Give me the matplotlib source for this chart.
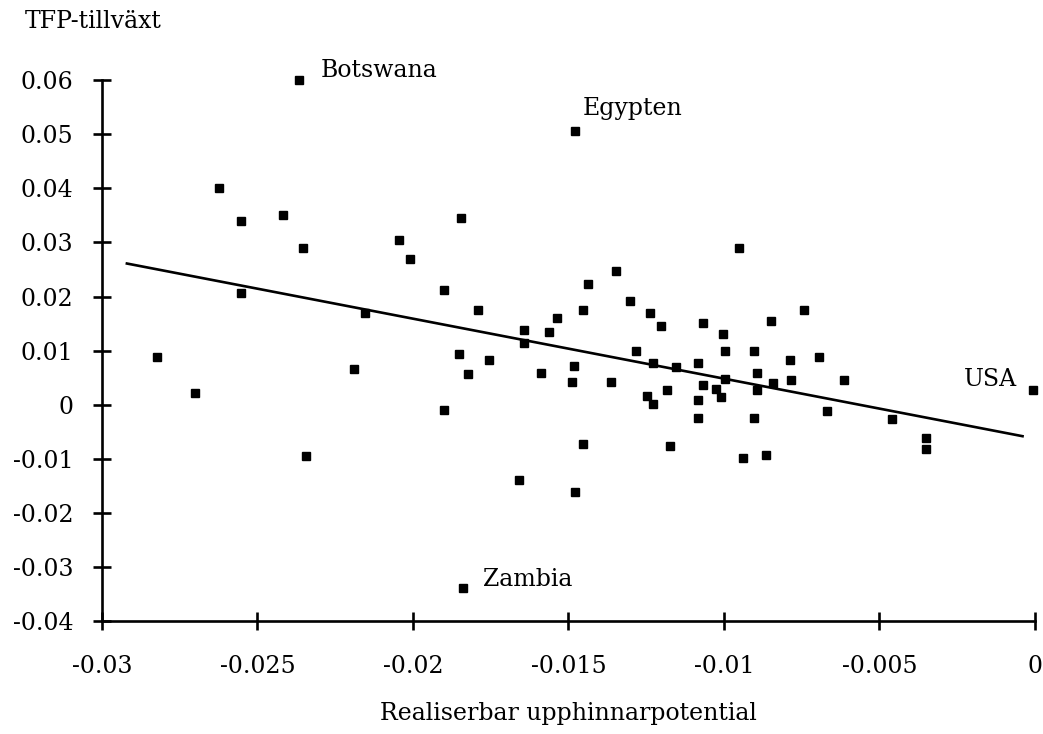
import matplotlib
matplotlib.use("Agg")
import matplotlib.pyplot as plt

plt.rcParams['font.family'] = ['DejaVu Serif']
plt.rcParams['axes.unicode_minus'] = False

# Realiserbar upphinnarpotential (x) och TFP-tillväxt (y)
potential = [-0.02366, -0.01479, -0.02623, -0.02554, -0.02419, -0.02355, -0.02046,
             -0.01846, -0.02010, -0.02554, -0.01899, -0.01790, -0.02154, -0.02822,
             -0.02701, -0.02189, -0.01852, -0.01824, -0.01756, -0.01899, -0.02344,
             -0.00951, -0.01348, -0.01437, -0.01302, -0.01238, -0.01454, -0.01536,
             -0.01563, -0.01642, -0.01642, -0.01201, -0.01067, -0.01004, -0.00849,
             -0.01588, -0.01481, -0.01488, -0.01363, -0.01283, -0.01227, -0.01155,
             -0.01085, -0.00996, -0.00904, -0.00788, -0.00786, -0.00893, -0.00841,
             -0.00893, -0.00997, -0.01067, -0.01027, -0.01011, -0.01183, -0.01249,
             -0.01227, -0.01083, -0.01083, -0.00904, -0.01452, -0.01174, -0.00940,
             -0.00865, -0.01659, -0.00742, -0.00695, -0.00614, -0.00668, -0.00461,
             -0.00350, -0.00350, -0.00005, -0.01839, -0.01479]
tfp = [0.0600, 0.0506, 0.0401, 0.0340, 0.0351, 0.0290, 0.0304,
       0.0346, 0.0269, 0.0206, 0.0212, 0.0175, 0.0170, 0.0088,
       0.0021, 0.0067, 0.0094, 0.0057, 0.0083, -0.0010, -0.0095,
       0.0289, 0.0248, 0.0223, 0.0192, 0.0170, 0.0175, 0.0160,
       0.0135, 0.0138, 0.0114, 0.0146, 0.0151, 0.0131, 0.0155,
       0.0058, 0.0072, 0.0042, 0.0042, 0.0099, 0.0078, 0.0069,
       0.0078, 0.0099, 0.0099, 0.0083, 0.0046, 0.0058, 0.0040,
       0.0027, 0.0047, 0.0037, 0.0030, 0.0015, 0.0027, 0.0017,
       0.0001, 0.0008, -0.0025, -0.0025, -0.0072, -0.0077, -0.0099,
       -0.0093, -0.0138, 0.0175, 0.0088, 0.0046, -0.0011, -0.0027,
       -0.0082, -0.0061, 0.0027, -0.0339, -0.0161]

# regressionslinjens ändpunkter
fit_x = [-0.0292, -0.0004]
fit_y = [0.0261, -0.0058]

# namngivna länder
names = ['Botswana', 'Egypten', 'USA', 'Zambia']
name_x = [-0.02366, -0.01479, -0.00005, -0.01839]
name_y = [0.0600, 0.0506, 0.0027, -0.0339]

xticks = [-0.03, -0.025, -0.02, -0.015, -0.01, -0.005, 0]
xlabels = ['-0.03', '-0.025', '-0.02', '-0.015', '-0.01', '-0.005', '0']
yticks = [0.06, 0.05, 0.04, 0.03, 0.02, 0.01, 0, -0.01, -0.02, -0.03, -0.04]
ylabels = ['0.06', '0.05', '0.04', '0.03', '0.02', '0.01', '0',
           '-0.01', '-0.02', '-0.03', '-0.04']

fig = plt.figure(figsize=(10.43, 7.34), dpi=100)
ax = fig.add_axes([0.0978, 0.1535, 0.8945, 0.7375])

ax.plot(potential, tfp, 's', color='black', markersize=6.3, clip_on=False)
ax.plot(fit_x, fit_y, color='black', linewidth=1.9)

# textpositioner (förskjutning i pixlar) för etiketterna
offsets = {'Botswana': (22, 10, 'left'), 'Egypten': (8, 22, 'left'),
           'USA': (-16, 11, 'right'), 'Zambia': (20, 9, 'left')}
for n, x, y in zip(names, name_x, name_y):
    dx, dy, ha = offsets[n]
    ax.annotate(n, (x, y), xytext=(dx, dy), textcoords='offset pixels',
                ha=ha, va='center', fontsize=17)

ax.set_xlim(-0.03, 0)
ax.set_ylim(-0.04, 0.06)
ax.set_xticks(xticks)
ax.set_xticklabels(xlabels)
ax.set_yticks(yticks)
ax.set_yticklabels(ylabels)

for s in ['top', 'right']:
    ax.spines[s].set_visible(False)
for s in ['left', 'bottom']:
    ax.spines[s].set_linewidth(1.9)

ax.tick_params(axis='both', direction='inout', length=13, width=1.9,
               labelsize=17, colors='black')
ax.tick_params(axis='x', pad=18)
ax.tick_params(axis='y', pad=14)

ax.set_xlabel('Realiserbar upphinnarpotential', fontsize=17, labelpad=17)
fig.text(25 / 1043, 1 - 22 / 734, 'TFP-tillväxt', ha='left', va='center',
         fontsize=17)

fig.savefig('out.png', dpi=100)
